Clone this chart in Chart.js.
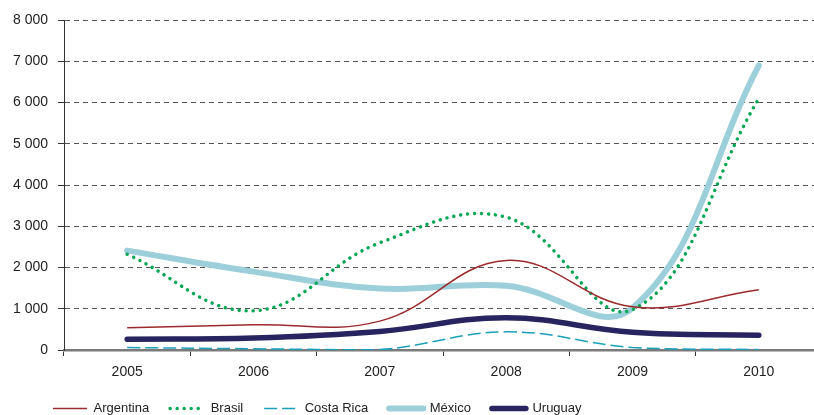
<!DOCTYPE html>
<html>
<head>
<meta charset="utf-8">
<script src="https://cdn.jsdelivr.net/npm/chart.js@4/dist/chart.umd.min.js"></script>
<style>
  html, body { margin: 0; padding: 0; background: #fff; overflow: hidden; }
  #wrap { position: relative; width: 822px; height: 425px; }
</style>
</head>
<body>
<div id="wrap"><canvas id="chart"></canvas></div>
<script>
// values
const years = ['2005', '2006', '2007', '2008', '2009', '2010'];
const argentina = [540, 610, 700, 2170, 1050, 1460];
const brasil = [2320, 950, 2600, 3220, 980, 6100];
const costaRica = [60, 30, 10, 440, 60, 10];
const mexico = [2410, 1900, 1490, 1560, 1020, 6900];
const uruguay = [260, 290, 450, 780, 430, 360];

const tickFont = { family: "'Liberation Sans', Arial, sans-serif", size: 14 };
const legendFont = { family: "'Liberation Sans', Arial, sans-serif", size: 13 };

function line(label, data, color, width, extra) {
    return Object.assign({
        label: label,
        data: data,
        borderColor: color,
        backgroundColor: color,
        borderWidth: width,
        pointRadius: 0,
        pointHoverRadius: 0,
        tension: 0.4,
        fill: false,
        borderCapStyle: 'round',
        borderJoinStyle: 'round'
    }, extra || {});
}

// push the legend row right so it starts under the axis like the original
const shiftLegend = {
    id: 'shiftLegend',
    afterLayout(chart) {
        if (chart.legend) chart.legend.left += 32;
    }
};

const ctx = document.getElementById('chart').getContext('2d');
const chart = new Chart(ctx, {
    type: 'line',
    data: {
        labels: years,
        datasets: [
            line('Argentina', argentina, '#9c2a2c', 1.5, { borderCapStyle: 'butt' }),
            line('Brasil', brasil, '#00a651', 3.5, { borderDash: [0.01, 7] }),
            line('Costa Rica', costaRica, '#1b9fbb', 1.5, { borderDash: [13, 5], borderCapStyle: 'butt' }),
            line('México', mexico, '#9dcfda', 6),
            line('Uruguay', uruguay, '#27245f', 5.5)
        ]
    },
    plugins: [shiftLegend],
    options: {
        responsive: true,
        maintainAspectRatio: false,
        animation: false,
        layout: { padding: { top: 20, left: 0, right: 0, bottom: 0 } },
        plugins: {
            tooltip: { enabled: false },
            legend: {
                position: 'bottom',
                align: 'start',
                labels: {
                    usePointStyle: true,
                    pointStyle: 'line',
                    pointStyleWidth: 34,
                    padding: 21,
                    color: '#222',
                    font: legendFont,
                    generateLabels: function(chart) {
                        const items = Chart.defaults.plugins.legend.labels.generateLabels(chart);
                        items.forEach(function(item) {
                            const ds = chart.data.datasets[item.datasetIndex];
                            item.lineDash = ds.borderDash || [];
                            item.lineCap = ds.borderCapStyle;
                            item.lineWidth = ds.borderWidth;
                        });
                        return items;
                    }
                }
            }
        },
        scales: {
            x: {
                offset: true,
                afterFit: function(scale) { scale.height = 31; },
                grid: {
                    offset: true,
                    drawOnChartArea: false,
                    drawTicks: true,
                    tickLength: 6,
                    color: '#333',
                    lineWidth: 1
                },
                border: { display: true, color: '#7a7a7a', width: 2.5 },
                ticks: { color: '#222', font: tickFont, padding: 8, maxRotation: 0 }
            },
            y: {
                min: 0,
                max: 8000,
                afterFit: function(scale) { scale.width = 64; },
                grid: {
                    color: '#555',
                    lineWidth: 1,
                    tickLength: 6,
                    tickColor: '#333',
                    tickBorderDash: []
                },
                border: { display: true, color: '#333', width: 1, dash: [5, 4] },
                ticks: {
                    stepSize: 1000,
                    color: '#222',
                    font: tickFont,
                    padding: 10,
                    callback: function(v) {
                        return v === 0 ? '0' : String(v).replace(/\B(?=(\d{3})+(?!\d))/g, ' ');
                    }
                }
            }
        }
    }
});
</script>
</body>
</html>
